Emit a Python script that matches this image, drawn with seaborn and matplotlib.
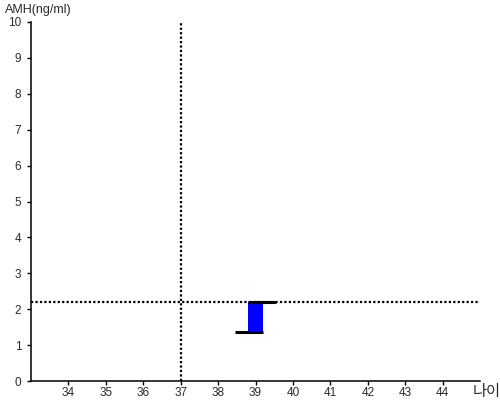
import matplotlib
matplotlib.use('Agg')
import matplotlib.pyplot as plt
import seaborn as sns

# data
age = [39]
amh_low = [1.37]
amh_high = [2.2]
ref_age = 37
ref_amh = 2.2
x_ticks = list(range(34, 45))
y_ticks = list(range(0, 11))

sns.set_style('ticks')
plt.rcParams['font.family'] = ['Liberation Sans', 'Noto Sans CJK KR', 'DejaVu Sans']

fig = plt.figure(figsize=(5, 4), dpi=100)
ax = fig.add_axes([0.062, 0.0475, 0.898, 0.8975])

bw = 0.42
ax.bar(age, [h - l for h, l in zip(amh_high, amh_low)], bottom=amh_low,
       width=bw, color='#0000ff', edgecolor='none', zorder=3)
for a, lo, hi in zip(age, amh_low, amh_high):
    ax.plot([a - bw / 2, a - bw / 2 + 0.76], [hi, hi], color='black', lw=2.2,
            solid_capstyle='butt', zorder=4)
    ax.plot([a + bw / 2 - 0.76, a + bw / 2], [lo, lo], color='black', lw=2.2,
            solid_capstyle='butt', zorder=4)

ax.axvline(ref_age, color='black', lw=1.6, ls=(0, (1, 1)), zorder=2)
ax.axhline(ref_amh, color='black', lw=1.6, ls=(0, (1, 1)), zorder=2)

ax.set_xlim(33, 45)
ax.set_ylim(0, 10)
ax.set_xticks(x_ticks)
ax.set_yticks(y_ticks)
ax.tick_params(labelsize=8.5, length=3, width=1, colors='black', labelcolor='#2a2a2a')
ax.tick_params(axis='x', pad=1)
ax.tick_params(axis='y', pad=4)
for s in ['left', 'bottom']:
    ax.spines[s].set_linewidth(1.1)
    ax.spines[s].set_color('black')
sns.despine(ax=ax)

fig.text(0.01, 0.975, 'AMH(ng/ml)', fontsize=9, va='center', ha='left', color='#2a2a2a')
fig.text(0.946, 0.02, '나이', fontsize=11, va='center', ha='left', color='#2a2a2a')

fig.savefig('out.png', dpi=100)
